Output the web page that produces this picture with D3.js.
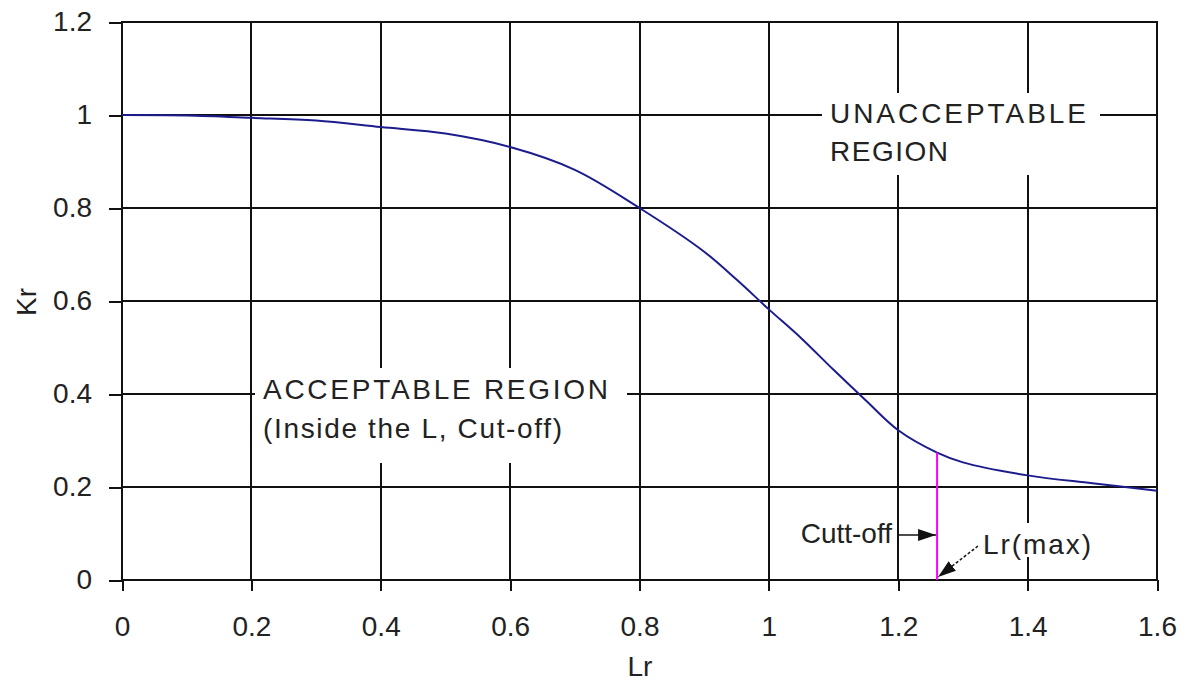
<!DOCTYPE html>
<meta charset="utf-8">
<style>
  body { margin: 0; background: #fff; }
  svg { display: block; font-family: "Liberation Sans", Arial, sans-serif; }
  .grid line, .frame { stroke: #111; stroke-width: 2; fill: none; shape-rendering: crispEdges; }
  .axis text { font-size: 28px; fill: #222; }
  .axis line { stroke: #111; stroke-width: 2; shape-rendering: crispEdges; }
  .note { font-size: 28px; fill: #222; }
</style>
<body>
<div id="chart"></div>
<script src="https://cdn.jsdelivr.net/npm/d3@7"></script>
<script>
  // Kr vs Lr failure assessment curve
  var lr = [0, 0.1, 0.2, 0.3, 0.4, 0.5, 0.6, 0.7, 0.8, 0.9, 0.95, 1.0, 1.05, 1.1, 1.15, 1.2, 1.26, 1.3, 1.4, 1.5, 1.6];
  var kr = [1.0, 0.999, 0.994, 0.988, 0.974, 0.960, 0.931, 0.882, 0.800, 0.706, 0.646, 0.582, 0.520, 0.452, 0.386, 0.322, 0.274, 0.253, 0.225, 0.208, 0.192];
  var xTicks = [0, 0.2, 0.4, 0.6, 0.8, 1.0, 1.2, 1.4, 1.6];
  var yTicks = [0, 0.2, 0.4, 0.6, 0.8, 1.0, 1.2];
  var lrMax = 1.26, krCut = 0.274;

  var width = 1185, height = 682;
  var pLeft = 122, pRight = 1157, pTop = 22, pBottom = 580;

  var x = d3.scaleLinear().domain([0, 1.6]).range([pLeft, pRight]);
  var y = d3.scaleLinear().domain([0, 1.2]).range([pBottom, pTop]);
  var fmt = function(d){ return String(+d.toFixed(1)); };

  var svg = d3.select("#chart").append("svg")
          .attr("width", width)
          .attr("height", height);

  var defs = svg.append("defs");
  defs.append("marker")
          .attr("id", "head")
          .attr("markerUnits", "userSpaceOnUse")
          .attr("viewBox", "0 0 18 12")
          .attr("refX", 18).attr("refY", 6)
          .attr("markerWidth", 18).attr("markerHeight", 12)
          .attr("orient", "auto")
          .append("path")
          .attr("d", "M0,0 L18,6 L0,12 Z")
          .attr("fill", "#111");

  // grid
  var grid = svg.append("g").attr("class", "grid");
  grid.selectAll("line.v").data(xTicks).enter()
          .append("line").attr("class", "v")
          .attr("x1", x).attr("x2", x)
          .attr("y1", pTop).attr("y2", pBottom);
  grid.selectAll("line.h").data(yTicks).enter()
          .append("line").attr("class", "h")
          .attr("x1", pLeft).attr("x2", pRight)
          .attr("y1", y).attr("y2", y);

  // axes (ticks outside the frame)
  svg.append("g").attr("class", "axis")
          .attr("transform", "translate(0," + pBottom + ")")
          .call(d3.axisBottom(x).tickValues(xTicks).tickFormat(fmt).tickSize(11).tickSizeOuter(0).tickPadding(25));
  svg.append("g").attr("class", "axis")
          .attr("transform", "translate(" + pLeft + ",0)")
          .call(d3.axisLeft(y).tickValues(yTicks).tickFormat(fmt).tickSize(13).tickSizeOuter(0).tickPadding(17));
  svg.selectAll(".axis .domain").remove();
  svg.selectAll(".axis text").attr("font-family", null).attr("font-size", null);

  svg.append("text").attr("class", "note")
          .attr("x", 640).attr("y", 676)
          .attr("text-anchor", "middle")
          .text("Lr");
  svg.append("text").attr("class", "note")
          .attr("transform", "translate(36,302) rotate(-90)")
          .attr("text-anchor", "middle")
          .text("Kr");

  // white label boxes that cut through the grid
  var boxes = [
    {x: 822, y: 93, w: 278, h: 82},
    {x: 255, y: 368, w: 372, h: 95},
    {x: 978, y: 523, w: 120, h: 34}
  ];
  svg.selectAll("rect.box").data(boxes).enter()
          .append("rect").attr("class", "box")
          .attr("x", function(d){ return d.x; })
          .attr("y", function(d){ return d.y; })
          .attr("width", function(d){ return d.w; })
          .attr("height", function(d){ return d.h; })
          .attr("fill", "#fff");

  var notes = [
    {t: "UNACCEPTABLE", x: 830, y: 123, len: 256},
    {t: "REGION", x: 830, y: 161, len: 118},
    {t: "ACCEPTABLE REGION", x: 263, y: 399, len: 345},
    {t: "(Inside the L, Cut-off)", x: 263, y: 438, len: 299},
    {t: "Lr(max)", x: 983, y: 554, len: 108}
  ];
  svg.selectAll("text.lbl").data(notes).enter()
          .append("text").attr("class", "note lbl")
          .attr("x", function(d){ return d.x; })
          .attr("y", function(d){ return d.y; })
          .attr("textLength", function(d){ return d.len; })
          .attr("lengthAdjust", "spacing")
          .text(function(d){ return d.t; });
  svg.append("text").attr("class", "note")
          .attr("x", 892).attr("y", 543)
          .attr("text-anchor", "end")
          .text("Cutt-off");

  // frame
  svg.append("rect").attr("class", "frame")
          .attr("x", pLeft).attr("y", pTop)
          .attr("width", pRight - pLeft).attr("height", pBottom - pTop);

  // curve
  var pts = lr.map(function(d, i){ return [d, kr[i]]; });
  svg.append("path")
          .datum(pts)
          .attr("fill", "none")
          .attr("stroke", "#1c1c8c")
          .attr("stroke-width", 2)
          .attr("d", d3.line()
                  .x(function(d){ return x(d[0]); })
                  .y(function(d){ return y(d[1]); })
                  .curve(d3.curveCatmullRom.alpha(0.5)));

  // cut-off line
  svg.append("line")
          .attr("x1", x(lrMax)).attr("x2", x(lrMax))
          .attr("y1", y(krCut)).attr("y2", y(0))
          .attr("stroke", "#ff00ff")
          .attr("stroke-width", 2);

  // arrows
  svg.append("line")
          .attr("x1", x(1.2)).attr("y1", 535)
          .attr("x2", x(lrMax) - 1).attr("y2", 535)
          .attr("stroke", "#111").attr("stroke-width", 1.5)
          .attr("marker-end", "url(#head)");
  svg.append("line")
          .attr("x1", 978).attr("y1", 546)
          .attr("x2", x(lrMax) + 1).attr("y2", y(0) - 3)
          .attr("stroke", "#111").attr("stroke-width", 1.5)
          .attr("stroke-dasharray", "3,2")
          .attr("marker-end", "url(#head)");
</script>
</body>
